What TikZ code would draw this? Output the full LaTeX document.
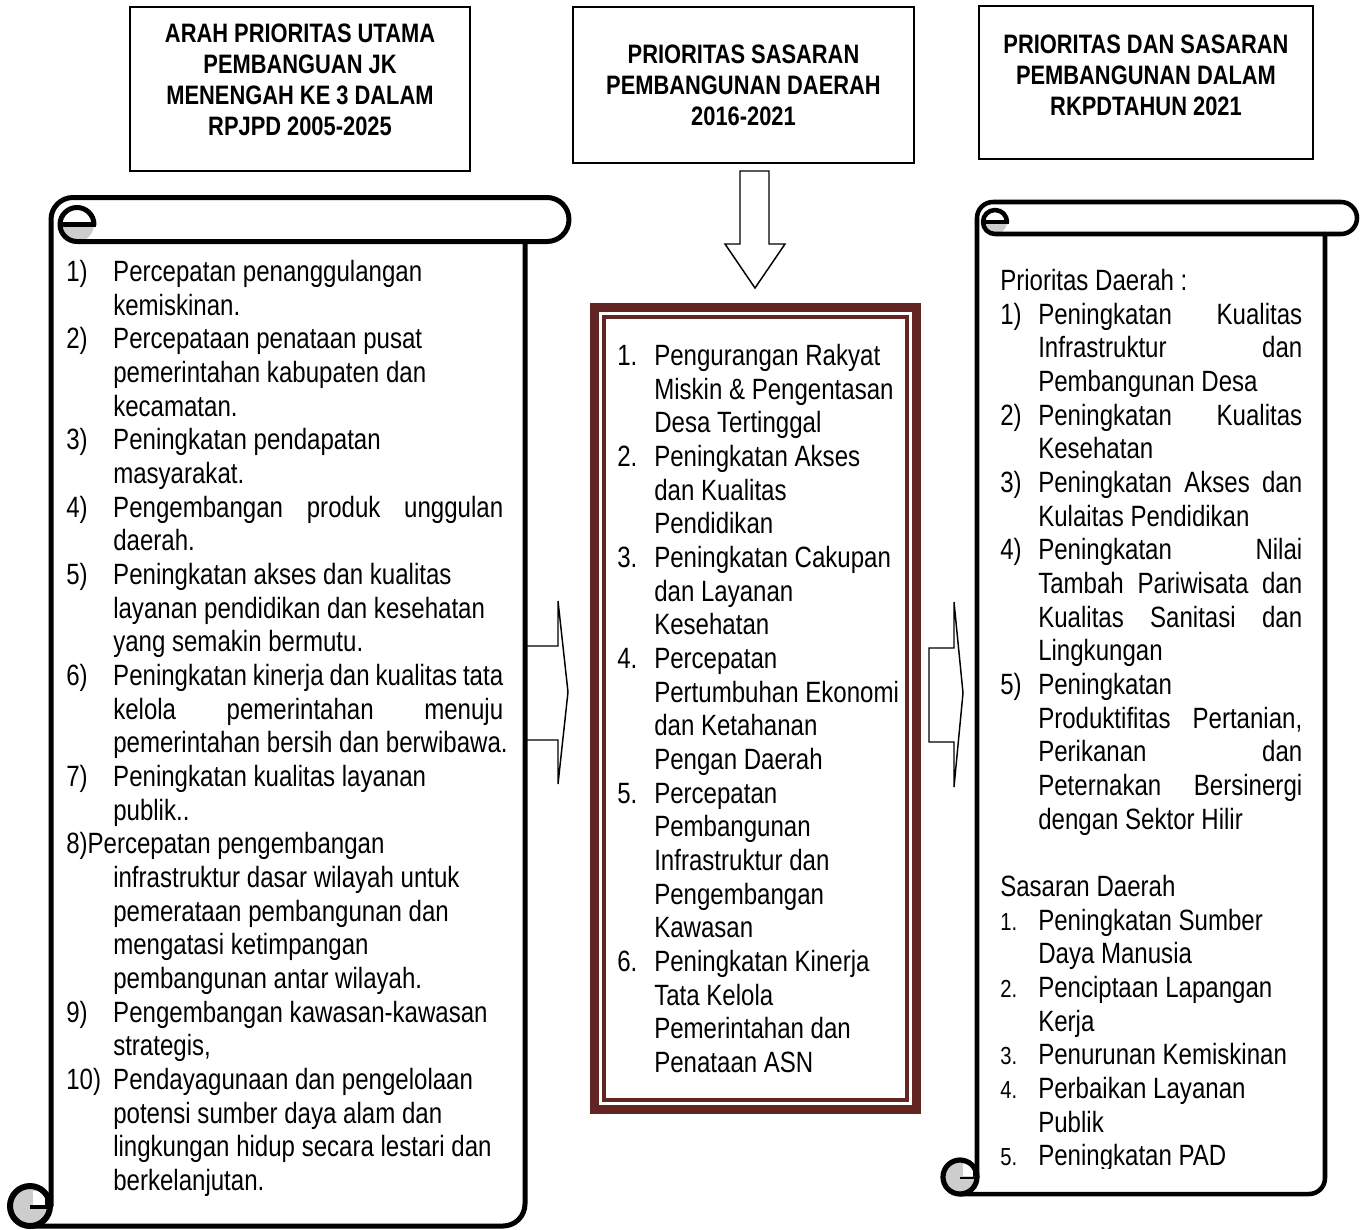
\documentclass[tikz,border=0pt]{standalone}
\usepackage{fontspec}
\setmainfont{Liberation Sans}[FakeStretch=0.82]
\definecolor{boxred}{RGB}{99,36,36}
\definecolor{curlgray}{RGB}{205,205,205}
\newcommand\bodyfnt{\fontsize{22}{25.25}\selectfont}
\newcommand\hdrfnt{\fontsize{20}{23.25}\selectfont\bfseries}
\newcommand\jx[2]{\makebox[#1][s]{#2}}
\newcommand\numL[1]{\makebox[35.25pt][l]{#1}}
\newcommand\indL{\hspace*{35.25pt}}
\newcommand\numM[1]{\makebox[27.75pt][l]{#1}}
\newcommand\indM{\hspace*{27.75pt}}
\newcommand\numR[1]{\makebox[28.5pt][l]{#1}}
\newcommand\numS[1]{\makebox[28.5pt][l]{\fontsize{18.5}{25.25}\selectfont #1}}
\newcommand\indR{\hspace*{28.5pt}}
\begin{document}
\begin{tikzpicture}[x=0.75pt,y=-0.75pt,
  hbox/.style={draw=black, line width=1.1pt, inner sep=0pt},
  htext/.style={font=\hdrfnt, align=center, inner sep=0pt},
  listtext/.style={font=\bodyfnt, inner sep=0pt, anchor=base west},
  blockarrow/.style={draw=black, fill=white, line width=1.1pt, line join=miter},
  scrollL/.style={line width=3.75pt, line join=round, line cap=round},
  scrollR/.style={line width=3.4pt, line join=round, line cap=round}]
\useasboundingbox (0,0) rectangle (1367,1229);
\fill[white] (0,0) rectangle (1367,1229);

% ---------- header boxes ----------
\node[hbox, minimum width=255pt, minimum height=123pt] (hA) at (300,89) {};
\node[htext] (hAt) at (300,79.5) {ARAH PRIORITAS UTAMA\\PEMBANGUAN JK\\MENENGAH KE 3 DALAM\\RPJPD 2005-2025};
\node[hbox, minimum width=255.75pt, minimum height=117pt] (hB) at (743.5,85) {};
\node[htext] (hBt) at (743.5,85) {PRIORITAS SASARAN\\PEMBANGUNAN DAERAH\\2016-2021};
\node[hbox, minimum width=250.5pt, minimum height=114.75pt] (hC) at (1146,82.5) {};
\node[htext] (hCt) at (1146,75) {PRIORITAS DAN SASARAN\\PEMBANGUNAN DALAM\\RKPDTAHUN 2021};

% ---------- block arrows ----------
\draw[blockarrow] (740,171) -- (769,171) -- (769,244) -- (785,244) -- (755,288) -- (725,244) -- (740,244) -- cycle;
\draw[blockarrow] (526,646) -- (558,646) -- (558,601) -- (568,692) -- (558,784) -- (558,740) -- (526,740) -- cycle;
\draw[blockarrow] (929,648) -- (954,648) -- (954,602) -- (963,693) -- (954,787) -- (954,742) -- (929,742) -- cycle;

% ---------- middle framed box ----------
\draw[boxred, line width=6.75pt] (594.5,307.5) rectangle (916.5,1109.5);
\draw[boxred, line width=2.6pt] (604,317) rectangle (907,1100);

% ---------- left scroll ----------
\fill[curlgray] (60,224.5) arc[start angle=180,end angle=360,radius=12.75pt] -- cycle;
\fill[curlgray] (30,1206) circle[radius=15pt];
\fill[white] (33,1191) rectangle (45,1205);
\draw[line width=4.5pt] (30,1206) circle[radius=15pt];
\draw[scrollL] (51,1206) -- (51,219.5) arc[start angle=180,end angle=90,radius=16.5pt]
  -- (547,197.5) arc[start angle=90,end angle=-90,radius=16.5pt]
  -- (77,241.5) arc[start angle=-90,end angle=-360,radius=12.75pt];
\draw[scrollL, line cap=butt] (62,224.5) -- (96,224.5);
\draw[scrollL] (525,241.5) -- (525,1204) arc[start angle=0,end angle=-90,radius=16.5pt] -- (30,1226);
\draw[line width=2.4pt] (30,1207) -- (48,1207);
\draw[line width=1.6pt] (46,1191) -- (46,1207);

% ---------- right scroll ----------
\fill[curlgray] (983,222) arc[start angle=180,end angle=360,radius=9pt] -- cycle;
\fill[curlgray] (960,1177) circle[radius=12.75pt];
\fill[white] (963,1164) rectangle (973,1176);
\draw[line width=3.9pt] (960,1177) circle[radius=12.75pt];
\draw[scrollR] (977,1177) -- (977,218) arc[start angle=180,end angle=90,radius=12pt]
  -- (1341,202) arc[start angle=90,end angle=-90,radius=12pt]
  -- (995,234) arc[start angle=-90,end angle=-360,radius=9pt];
\draw[scrollR, line cap=butt] (984,222) -- (1009,222);
\draw[scrollR] (1325,234) -- (1325,1178) arc[start angle=0,end angle=-90,radius=12pt] -- (960,1194);
\draw[line width=2pt] (960,1178) -- (975,1178);
\draw[line width=1.4pt] (973.5,1164) -- (973.5,1178);

% ---------- lists ----------
\node[listtext] (listL) at (66,281.5) {\begin{tabular}[t]{@{}l@{}}
\numL{1)}Percepatan penanggulangan\\
\indL kemiskinan.\\
\numL{2)}Percepataan penataan pusat\\
\indL pemerintahan kabupaten dan\\
\indL kecamatan.\\
\numL{3)}Peningkatan pendapatan\\
\indL masyarakat.\\
\numL{4)}\jx{292.5pt}{Pengembangan produk unggulan}\\
\indL daerah.\\
\numL{5)}Peningkatan akses dan kualitas\\
\indL layanan pendidikan dan kesehatan\\
\indL yang semakin bermutu.\\
\numL{6)}\jx{292.5pt}{Peningkatan kinerja dan kualitas tata}\\
\indL\jx{292.5pt}{kelola pemerintahan menuju}\\
\indL pemerintahan bersih dan berwibawa.\\
\numL{7)}Peningkatan kualitas layanan\\
\indL publik..\\
8)Percepatan pengembangan\\
\indL infrastruktur dasar wilayah untuk\\
\indL pemerataan pembangunan dan\\
\indL mengatasi ketimpangan\\
\indL pembangunan antar wilayah.\\
\numL{9)}Pengembangan kawasan-kawasan\\
\indL strategis,\\
\numL{10)}Pendayagunaan dan pengelolaan\\
\indL potensi sumber daya alam dan\\
\indL lingkungan hidup secara lestari dan\\
\indL berkelanjutan.
\end{tabular}};

\node[listtext] (listM) at (617,365.5) {\begin{tabular}[t]{@{}l@{}}
\numM{1.}Pengurangan Rakyat\\
\indM Miskin \& Pengentasan\\
\indM Desa Tertinggal\\
\numM{2.}Peningkatan Akses\\
\indM dan Kualitas\\
\indM Pendidikan\\
\numM{3.}Peningkatan Cakupan\\
\indM dan Layanan\\
\indM Kesehatan\\
\numM{4.}Percepatan\\
\indM Pertumbuhan Ekonomi\\
\indM dan Ketahanan\\
\indM Pengan Daerah\\
\numM{5.}Percepatan\\
\indM Pembangunan\\
\indM Infrastruktur dan\\
\indM Pengembangan\\
\indM Kawasan\\
\numM{6.}Peningkatan Kinerja\\
\indM Tata Kelola\\
\indM Pemerintahan dan\\
\indM Penataan ASN
\end{tabular}};

\begin{scope}
\clip (940,250) rectangle (1340,1168);
\node[listtext] (listR) at (1000,290.5) {\begin{tabular}[t]{@{}l@{}}
Prioritas Daerah :\\
\numR{1)}\jx{198pt}{Peningkatan Kualitas}\\
\indR\jx{198pt}{Infrastruktur dan}\\
\indR Pembangunan Desa\\
\numR{2)}\jx{198pt}{Peningkatan Kualitas}\\
\indR Kesehatan\\
\numR{3)}\jx{198pt}{Peningkatan Akses dan}\\
\indR Kulaitas Pendidikan\\
\numR{4)}\jx{198pt}{Peningkatan Nilai}\\
\indR\jx{198pt}{Tambah Pariwisata dan}\\
\indR\jx{198pt}{Kualitas Sanitasi dan}\\
\indR Lingkungan\\
\numR{5)}Peningkatan\\
\indR\jx{198pt}{Produktifitas Pertanian,}\\
\indR\jx{198pt}{Perikanan dan}\\
\indR\jx{198pt}{Peternakan Bersinergi}\\
\indR dengan Sektor Hilir\\
\mbox{}\\
Sasaran Daerah\\
\numS{1.}Peningkatan Sumber\\
\indR Daya Manusia\\
\numS{2.}Penciptaan Lapangan\\
\indR Kerja\\
\numS{3.}Penurunan Kemiskinan\\
\numS{4.}Perbaikan Layanan\\
\indR Publik\\
\numS{5.}Peningkatan PAD
\end{tabular}};
\end{scope}
\end{tikzpicture}
\end{document}
